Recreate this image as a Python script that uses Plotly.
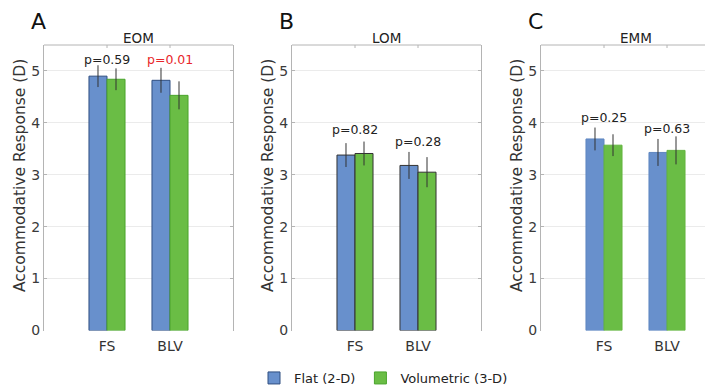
import plotly.graph_objects as go

# ---- data ----
categories = ["FS", "BLV"]
cat_pos = [1, 2]
panels = ["EOM", "LOM", "EMM"]
panel_letters = ["A", "B", "C"]

flat_means = {"EOM": [4.90, 4.82], "LOM": [3.38, 3.18], "EMM": [3.69, 3.43]}
flat_errs = {"EOM": [0.21, 0.24], "LOM": [0.23, 0.26], "EMM": [0.22, 0.26]}
vol_means = {"EOM": [4.84, 4.53], "LOM": [3.41, 3.05], "EMM": [3.57, 3.47]}
vol_errs = {"EOM": [0.21, 0.27], "LOM": [0.23, 0.29], "EMM": [0.21, 0.27]}

p_values = {"EOM": ["p=0.59", "p=0.01"], "LOM": ["p=0.82", "p=0.28"], "EMM": ["p=0.25", "p=0.63"]}
p_label_y = {"EOM": [5.23, 5.23], "LOM": [3.88, 3.64], "EMM": [4.11, 3.90]}
p_significant = {"EOM": [False, True], "LOM": [False, False], "EMM": [False, False]}

y_ticks = [0, 1, 2, 3, 4, 5]

# ---- styles ----
W, H = 713, 387
OFF = 8  # page body margin: figure starts 8px in from window edge
FONT = "DejaVu Sans"
BLUE = "#6890cc"
GREEN = "#6abd45"
AXIS_C = "#b4b4b4"
GRID_C = "#ebebeb"
edge_flat = {"EOM": "#2f4e80", "LOM": "#333333", "EMM": "#5f86c0"}
edge_vol = {"EOM": "#4aa42c", "LOM": "#333333", "EMM": "#63b43f"}


def fx(px):
    return (px - OFF) / W


def fy(py):
    return 1 - (py - OFF) / H


# screen pixel geometry (as seen in window)
px_left = [44, 292, 541]
unit_px = 63.0
x_max = 3.0
y_bottom_px, y_top_px = 330.5, 45
y_range = [0, 5.5]

fig = go.Figure()
layout_axes = {}
shapes = []
annotations = []

for i, name in enumerate(panels):
    k = "" if i == 0 else str(i + 1)
    xa, ya = "x" + k, "y" + k
    left = px_left[i]
    right = min(left + unit_px * x_max, W)
    xr = [0, (right - left) / unit_px]
    dom_x = [fx(left), fx(right)]
    dom_y = [fy(y_bottom_px), fy(y_top_px)]

    fig.add_trace(go.Bar(
        x=cat_pos, y=flat_means[name], name="Flat (2-D)", legendgroup="flat",
        showlegend=(i == 0), xaxis=xa, yaxis=ya,
        marker=dict(color=BLUE, line=dict(color=edge_flat[name], width=1)),
        error_y=dict(type="data", array=flat_errs[name], color="#333333", thickness=1, width=0),
    ))
    fig.add_trace(go.Bar(
        x=cat_pos, y=vol_means[name], name="Volumetric (3-D)", legendgroup="vol",
        showlegend=(i == 0), xaxis=xa, yaxis=ya,
        marker=dict(color=GREEN, line=dict(color=edge_vol[name], width=1)),
        error_y=dict(type="data", array=vol_errs[name], color="#333333", thickness=1, width=0),
    ))

    layout_axes["xaxis" + k] = dict(
        domain=dom_x, range=xr, anchor=ya, tickvals=cat_pos, ticktext=categories,
        showline=False, showgrid=False, zeroline=False, ticks="", automargin=False,
        ticklabelstandoff=5,
        tickfont=dict(family=FONT, size=14, color="#333333"), fixedrange=True,
    )
    layout_axes["yaxis" + k] = dict(
        domain=dom_y, range=y_range, anchor=xa, tickvals=y_ticks, automargin=False,
        showline=True, linecolor=AXIS_C, linewidth=1, mirror="ticks",
        ticks="inside", ticklen=3, tickcolor=AXIS_C,
        showgrid=True, gridcolor=GRID_C, zeroline=False,
        tickfont=dict(family=FONT, size=14, color="#3a3a3a"), fixedrange=True,
    )

    # top box line and top ticks
    shapes.append(dict(type="line", xref=xa + " domain", yref=ya + " domain",
                       x0=0, x1=1, y0=1, y1=1, line=dict(color=AXIS_C, width=1)))
    for c in cat_pos:
        shapes.append(dict(type="line", xref=xa, yref=ya + " domain",
                           x0=c, x1=c, y0=1, y1=1 - 3 / (y_bottom_px - y_top_px),
                           line=dict(color=AXIS_C, width=1)))

    # p-value labels
    for c, txt, yy, sig in zip(cat_pos, p_values[name], p_label_y[name], p_significant[name]):
        annotations.append(dict(x=c, y=yy, xref=xa, yref=ya, text=txt, showarrow=False,
                                xanchor="center", yanchor="middle",
                                font=dict(family=FONT, size=12.5, color="#e8262a" if sig else "#222222")))

    # panel title
    center_px = left + unit_px * x_max / 2
    annotations.append(dict(x=fx(center_px), y=fy(38), xref="paper", yref="paper",
                            text=name, showarrow=False, xanchor="center", yanchor="middle",
                            font=dict(family=FONT, size=13.5, color="#222222")))
    # panel letter
    annotations.append(dict(x=fx(left - 15), y=fy(21), xref="paper", yref="paper",
                            text=panel_letters[i], showarrow=False, xanchor="left", yanchor="middle",
                            font=dict(family=FONT, size=22, color="#111111")))
    # y-axis title
    annotations.append(dict(x=fx(left - 24), y=fy(176), xref="paper", yref="paper",
                            text="Accommodative Response (D)", textangle=-90, showarrow=False,
                            xanchor="center", yanchor="middle",
                            font=dict(family=FONT, size=15.5, color="#333333")))

fig.update_layout(
    width=W, height=H,
    margin=dict(l=0, r=0, t=0, b=0),
    paper_bgcolor="white", plot_bgcolor="white",
    barmode="group", bargap=0.428, bargroupgap=0,
    showlegend=True,
    legend=dict(orientation="h", x=fx(254), xanchor="left", y=fy(378), yanchor="middle",
                font=dict(family=FONT, size=13, color="#222222"),
                bgcolor="rgba(0,0,0,0)", itemwidth=30, tracegroupgap=0),
    shapes=shapes, annotations=annotations,
    **layout_axes,
)

fig.write_html("out.html")
